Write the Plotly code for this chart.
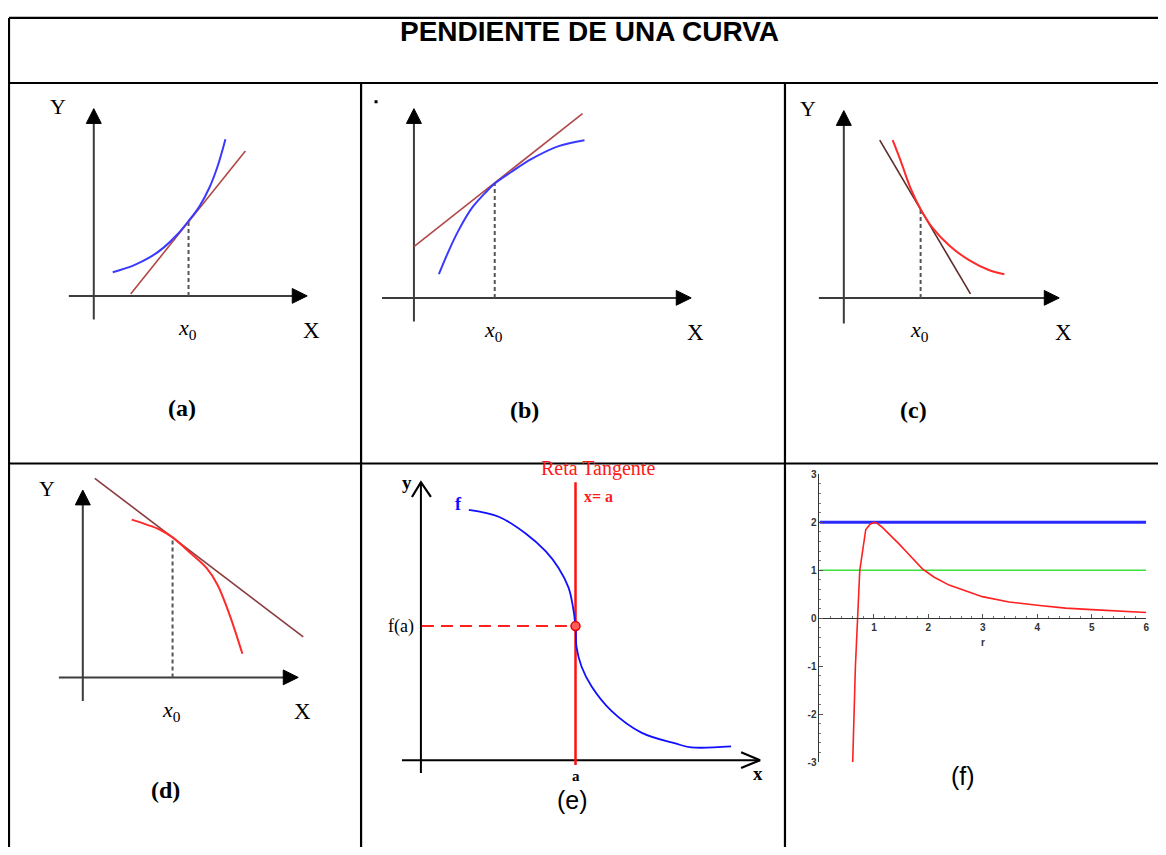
import plotly.graph_objects as go

W, H = 1166, 855          # reference picture size
PAGE_MARGIN = 8           # default body margin of the html page
FW, FH = W - 2 * PAGE_MARGIN, H - 2 * PAGE_MARGIN

# ---------------- data (local units: origin at axes crossing, y upward) ----------------
TITLE = "PENDIENTE DE UNA CURVA"
PANEL_LABELS = ["(a)", "(b)", "(c)", "(d)", "(e)", "(f)"]

# (a) convex increasing curve and its tangent
A_CURVE_X = [19, 40, 56, 70, 83, 95, 106, 116, 124, 132]
A_CURVE_Y = [24, 31, 39, 49, 61.5, 76, 91, 110, 131, 159]
A_TAN_X = [37, 152]
A_TAN_Y = [2, 147]
A_POINT = [95, 76]
A_XAXIS = [-25, 214]
A_YAXIS = [-24, 190]

# (b) concave increasing curve and its tangent
B_CURVE_X = [25, 35, 45, 58, 71, 81, 98, 118, 145, 171]
B_CURVE_Y = [24, 48, 69, 91, 106, 116, 128, 141, 154, 160]
B_TAN_X = [0, 169]
B_TAN_Y = [52, 187]
B_POINT = [81, 117]
B_XAXIS = [-32, 278]
B_YAXIS = [-24, 192]

# (c) convex decreasing curve and its tangent
C_CURVE_X = [49, 57, 67, 77, 89, 106, 126, 146, 161]
C_CURVE_Y = [160, 139, 111, 90, 71, 53, 38, 28, 24]
C_TAN_X = [36, 127]
C_TAN_Y = [160, 4]
C_POINT = [77, 90]
C_XAXIS = [-25, 216]
C_YAXIS = [-26, 190]

# (d) concave decreasing curve and its tangent
D_CURVE_X = [49, 64, 77, 90, 107, 124, 135, 147, 160]
D_CURVE_Y = [160, 155, 150, 142, 127, 111, 94, 64, 24]
D_TAN_X = [12, 221]
D_TAN_Y = [202, 41]
D_POINT = [90, 142]
D_XAXIS = [-24, 216]
D_YAXIS = [-24, 190]

# (e) curve with vertical tangent x = a
E_CURVE_X = [48, 78, 105, 125, 138, 148, 152, 155, 156, 161, 171, 191, 221, 255, 271, 311]
E_CURVE_Y = [254, 247, 230, 212, 195, 175, 158, 136, 115, 95, 75, 50, 28, 17, 13, 14]
E_POINT = [155, 136]
E_TANGENT_Y = [-5, 282]
E_XAXIS = [-19, 340]
E_YAXIS = [-13, 282]

# (f) plotted function with two horizontal levels
F_R = [0.61, 0.66, 0.70, 0.74, 0.85, 0.93, 1.0, 1.06, 1.15, 1.3, 1.46, 1.6, 1.71, 1.89, 2.1, 2.38, 2.99, 3.48, 4.0, 4.52, 5.0, 5.5, 6.0]
F_V = [-3.0, -1.0, 0.0, 1.0, 1.85, 1.96, 2.0, 1.98, 1.9, 1.74, 1.55, 1.38, 1.24, 1.03, 0.86, 0.69, 0.45, 0.34, 0.27, 0.21, 0.18, 0.15, 0.12]
F_RANGE_X = [0, 6]
F_BLUE_LEVEL = 2
F_GREEN_LEVEL = 1
F_XTICKS = [1, 2, 3, 4, 5, 6]
F_YTICKS = [-3, -2, -1, 0, 1, 2, 3]

# ---------------- layout helpers ----------------
SERIF = "Liberation Serif"
SANS = "Liberation Sans"
AXIS_COLOR = "#3c3c3c"

fig = go.Figure()
layout = dict(width=FW, height=FH, margin=dict(l=0, r=0, t=0, b=0),
              paper_bgcolor="white", plot_bgcolor="rgba(0,0,0,0)", showlegend=False)
annotations = []
shapes = []
X_MAX, Y_MAX = PAGE_MARGIN + FW, PAGE_MARGIN + FH


def px(x):
    return (x - PAGE_MARGIN) / FW


def py(y):
    return 1 - (y - PAGE_MARGIN) / FH


def panel_axes(n, cell, origin):
    x0, x1, y0, y1 = cell
    x1, y1 = min(x1, X_MAX), min(y1, Y_MAX)
    ox, oy = origin
    layout[f"xaxis{n}"] = dict(domain=[px(x0), px(x1)], range=[x0 - ox, x1 - ox],
                               visible=False, anchor=f"y{n}", fixedrange=True)
    layout[f"yaxis{n}"] = dict(domain=[py(y1), py(y0)], range=[oy - y1, oy - y0],
                               visible=False, anchor=f"x{n}", fixedrange=True)


def line(n, xs, ys, color, width, dash=None, shape="linear"):
    fig.add_trace(go.Scatter(x=xs, y=ys, mode="lines", xaxis=f"x{n}", yaxis=f"y{n}",
                             line=dict(color=color, width=width, dash=dash, shape=shape),
                             hoverinfo="skip"))


def tri(n, xs, ys, color):
    fig.add_trace(go.Scatter(x=xs, y=ys, mode="lines", fill="toself", fillcolor=color,
                             xaxis=f"x{n}", yaxis=f"y{n}", line=dict(color=color, width=1),
                             hoverinfo="skip"))


def text(n, x, y, s, size, family=SERIF, color="black", xanchor="center", yanchor="middle", bold=False):
    annotations.append(dict(x=x, y=y, xref=f"x{n}", yref=f"y{n}", text=s, showarrow=False,
                            xanchor=xanchor, yanchor=yanchor,
                            font=dict(family=family, size=size, color=color,
                                      weight="bold" if bold else "normal")))


def solid_axes(n, xaxis, yaxis):
    ah_len, ah_half = 15, 7.5
    line(n, [xaxis[0], xaxis[1] - ah_len + 1], [0, 0], AXIS_COLOR, 2)
    line(n, [0, 0], [yaxis[0], yaxis[1] - ah_len + 1], AXIS_COLOR, 2)
    tri(n, [xaxis[1], xaxis[1] - ah_len, xaxis[1] - ah_len, xaxis[1]], [0, ah_half, -ah_half, 0], "black")
    tri(n, [0, ah_half, -ah_half, 0], [yaxis[1], yaxis[1] - ah_len, yaxis[1] - ah_len, yaxis[1]], "black")


def sketch_panel(n, curve_x, curve_y, curve_color, tan_x, tan_y, tan_color, point, xaxis, yaxis,
                 label, show_y=True, label_dx=-7):
    solid_axes(n, xaxis, yaxis)
    line(n, [point[0], point[0]], [0, point[1]], "#555555", 2, dash="4px,3px")
    line(n, tan_x, tan_y, tan_color, 1.6)
    line(n, curve_x, curve_y, curve_color, 2, shape="spline")
    if show_y:
        text(n, -36, yaxis[1] + 2, "Y", 22)
    text(n, xaxis[1] + 4, -35, "X", 23)
    text(n, point[0] - 1, -34, "<i>x</i><sub>0</sub>", 22)
    text(n, point[0] + label_dx, -114, label, 24, bold=True)


# ---------------- table frame ----------------
ROW1, ROW2, TOP = 78, 464, 12
LEFT, COL1, COL2 = 9, 362, 787
frame = [
    (LEFT, TOP, LEFT, H), (LEFT, TOP, W, TOP), (LEFT, ROW1, W, ROW1), (LEFT, ROW2, W, ROW2),
    (COL1, ROW1, COL1, H), (COL2, ROW1, COL2, H),
]
for x0, y0, x1, y1 in frame:
    shapes.append(dict(type="line", xref="paper", yref="paper", x0=px(x0), y0=py(y0), x1=px(x1), y1=py(y1),
                       line=dict(color="black", width=2.2)))
annotations.append(dict(x=px(591), y=py(26), xref="paper", yref="paper", text=TITLE, showarrow=False,
                        xanchor="center", yanchor="middle",
                        font=dict(family=SANS, size=28, color="black", weight="bold")))

# ---------------- panels a-d ----------------
panel_axes(2, (LEFT, COL1, ROW1, ROW2), (94, 294))
panel_axes(3, (COL1, COL2, ROW1, ROW2), (415, 296))
panel_axes(4, (COL2, W, ROW1, ROW2), (846, 296))
panel_axes(5, (LEFT, COL1, ROW2, H), (83, 681))
panel_axes(6, (COL1, COL2, ROW2, H), (422, 765))

sketch_panel(2, A_CURVE_X, A_CURVE_Y, "#3a3aff", A_TAN_X, A_TAN_Y, "#b04848", A_POINT, A_XAXIS, A_YAXIS, PANEL_LABELS[0])
sketch_panel(3, B_CURVE_X, B_CURVE_Y, "#3a3aff", B_TAN_X, B_TAN_Y, "#b04848", B_POINT, B_XAXIS, B_YAXIS,
             PANEL_LABELS[1], show_y=False, label_dx=30)
fig.add_trace(go.Scatter(x=[-38], y=[199], mode="markers", xaxis="x3", yaxis="y3",
                         marker=dict(symbol="square", size=3, color="black"), hoverinfo="skip"))
sketch_panel(4, C_CURVE_X, C_CURVE_Y, "#ff2a2a", C_TAN_X, C_TAN_Y, "#5e2a2a", C_POINT, C_XAXIS, C_YAXIS, PANEL_LABELS[2])
sketch_panel(5, D_CURVE_X, D_CURVE_Y, "#ff2a2a", D_TAN_X, D_TAN_Y, "#8a3c3c", D_POINT, D_XAXIS, D_YAXIS, PANEL_LABELS[3])

# ---------------- panel e ----------------
n = 6
line(n, E_XAXIS, [0, 0], "black", 2)
line(n, [0, 0], E_YAXIS, "black", 2)
line(n, [E_XAXIS[1] - 19, E_XAXIS[1], E_XAXIS[1] - 19], [8, 0, -8], "black", 2.2)
line(n, [-9, 0, 10], [E_YAXIS[1] - 15, E_YAXIS[1], E_YAXIS[1] - 15], "black", 2.2)
line(n, [1, E_POINT[0]], [E_POINT[1], E_POINT[1]], "#ff2020", 2, dash="12px,7px")
line(n, [E_POINT[0], E_POINT[0]], E_TANGENT_Y, "#ff1010", 2.5)
line(n, E_CURVE_X, E_CURVE_Y, "#1010ff", 1.8, shape="spline")
fig.add_trace(go.Scatter(x=[E_POINT[0]], y=[E_POINT[1]], mode="markers", xaxis="x6", yaxis="y6",
                         marker=dict(size=9, color="#ff5a5a", line=dict(color="#e00000", width=1.5)),
                         hoverinfo="skip"))
text(n, 178, 296, "Reta Tangente", 20, color="#ff1a1a")
text(n, 162, 268, "x= a", 16, color="#ff1a1a", xanchor="left", bold=True)
text(n, 38, 260, "f", 18, color="#1010ff", bold=True)
text(n, -14, 282, "y", 19, bold=True)
text(n, 338, -14, "x", 19, bold=True)
text(n, -5, E_POINT[1], "f(a)", 18, xanchor="right")
text(n, E_POINT[0], -16, "a", 15, bold=True)
text(n, 152, -40, PANEL_LABELS[4], 25, family=SANS)

# ---------------- panel f ----------------
fy_top, fy_bot = 475, 767
fx_left, fx_right = 821.6, 1149.2
tick_font = dict(family=SANS, size=10, color="#333", weight="bold")
minor_ticks = dict(tick0=0, dtick=0.2, ticks="inside", ticklen=2, tickcolor="#777")
layout["xaxis7"] = dict(domain=[px(fx_left), px(fx_right)], range=F_RANGE_X, anchor="free",
                        position=py((fy_top + fy_bot) / 2), tickmode="array", tickvals=F_XTICKS,
                        ticktext=[str(v) for v in F_XTICKS],
                        ticks="inside", ticklen=4, tickcolor="#555", showline=True, linecolor="#333",
                        linewidth=1, showgrid=False, zeroline=False, fixedrange=True,
                        minor=minor_ticks, tickfont=tick_font)
layout["yaxis7"] = dict(domain=[py(fy_bot), py(fy_top)], range=[-3, 3], anchor="x7", tickmode="array",
                        tickvals=F_YTICKS, ticktext=[str(v) for v in F_YTICKS],
                        ticks="inside", ticklen=4, tickcolor="#555", showline=True, linecolor="#333",
                        linewidth=1, showgrid=False, zeroline=False, fixedrange=True,
                        minor=minor_ticks, tickfont=tick_font)
fig.add_trace(go.Scatter(x=F_RANGE_X, y=[F_BLUE_LEVEL] * 2, mode="lines", xaxis="x7", yaxis="y7",
                         line=dict(color="#2a2aff", width=3), hoverinfo="skip"))
fig.add_trace(go.Scatter(x=F_RANGE_X, y=[F_GREEN_LEVEL] * 2, mode="lines", xaxis="x7", yaxis="y7",
                         line=dict(color="#3ae03a", width=1.5), hoverinfo="skip"))
fig.add_trace(go.Scatter(x=F_R, y=F_V, mode="lines", xaxis="x7", yaxis="y7",
                         line=dict(color="#ff2020", width=1.6), hoverinfo="skip"))
annotations.append(dict(x=3, y=py(653), xref="x7", yref="paper", text="r", showarrow=False,
                        font=dict(family=SANS, size=10, color="#333", weight="bold")))
annotations.append(dict(x=px(980), y=py(797), xref="paper", yref="paper", text=PANEL_LABELS[5],
                        showarrow=False, font=dict(family=SANS, size=25, color="black")))

layout["annotations"] = annotations
layout["shapes"] = shapes
fig.update_layout(**layout)
fig.write_html("out.html")
